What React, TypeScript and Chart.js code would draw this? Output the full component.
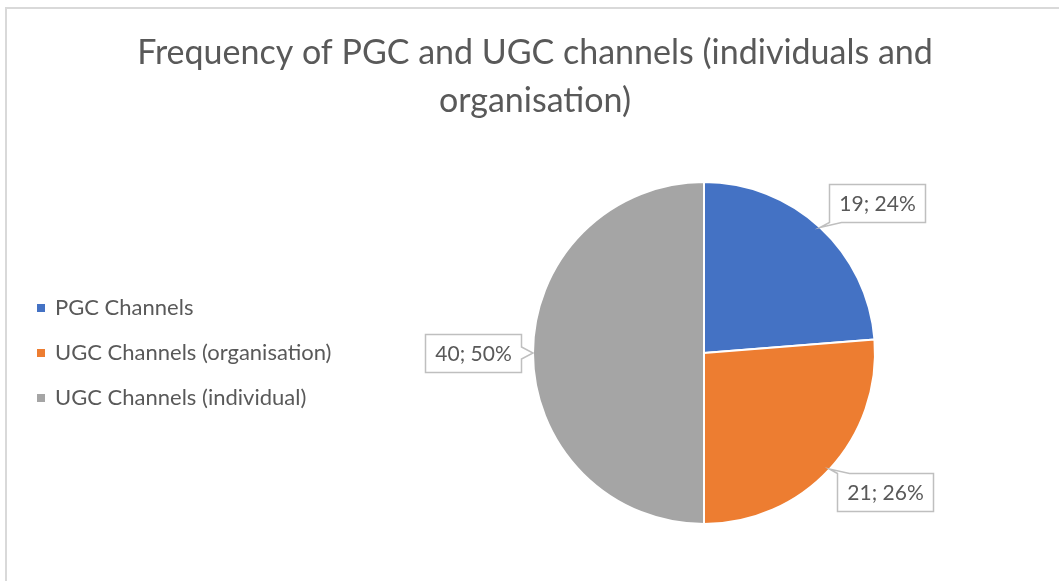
import React, { useEffect, useRef } from "react";
import { Chart, registerables } from "chart.js";
Chart.register(...registerables);

const categories = ["PGC Channels", "UGC Channels (organisation)", "UGC Channels (individual)"];
const values = [19, 21, 40];
const colors = ["#4472C4", "#ED7D31", "#A5A5A5"];
const titleLines = ["Frequency of PGC and UGC channels (individuals and", "organisation)"];
// label box placement: angle from 12 o'clock (deg, clockwise) and distance from pie centre
const labelAngles = [49.1, 127.6, 270];
const labelDistances = [229, 228.5, 231];

const FONT = "Lato, 'Open Sans', sans-serif";
const TEXT = "#595959";

const overlayPlugin = {
  id: "overlay",
  afterDraw(chart: any) {
    const ctx = chart.ctx as CanvasRenderingContext2D;
    const W = chart.width;
    const H = chart.height;
    ctx.save();
    // outer chart border
    ctx.strokeStyle = "#D9D9D9";
    ctx.lineWidth = 2;
    ctx.beginPath();
    ctx.moveTo(6, H + 10);
    ctx.lineTo(6, 8);
    ctx.lineTo(W + 10, 8);
    ctx.stroke();

    // title
    ctx.fillStyle = TEXT;
    ctx.font = `34px ${FONT}`;
    ctx.textAlign = "center";
    ctx.textBaseline = "middle";
    titleLines.forEach((l, i) => ctx.fillText(l, 535, 53 + i * 48));

    // legend
    ctx.font = `22px ${FONT}`;
    ctx.textAlign = "left";
    categories.forEach((c, i) => {
      const y = 308 + i * 45;
      ctx.fillStyle = colors[i];
      ctx.fillRect(37, y - 4, 8, 8);
      ctx.fillStyle = TEXT;
      ctx.fillText(c, 55, y);
    });

    // data labels (callouts)
    const meta = chart.getDatasetMeta(0);
    const arcs = meta.data;
    const total = values.reduce((a, b) => a + b, 0);
    arcs.forEach((arc: any, i: number) => {
      const cx = arc.x, cy = arc.y, r = arc.outerRadius;
      const mid = (arc.startAngle + arc.endAngle) / 2;
      const tip = { x: cx + Math.cos(mid) * r, y: cy + Math.sin(mid) * r };
      const a = (labelAngles[i] * Math.PI) / 180;
      const bx = cx + Math.sin(a) * labelDistances[i];
      const by = cy - Math.cos(a) * labelDistances[i];
      const text = `${values[i]}; ${Math.round((values[i] / total) * 100)}%`;
      ctx.font = `21px ${FONT}`;
      const tw = ctx.measureText(text).width;
      const w = tw + 20, h = 38;
      const L = Math.round(bx - w / 2) + 0.5, R = L + Math.round(w);
      const T = Math.round(by - h / 2) + 0.5, B = T + h;
      const pts: [number, number][] = [];
      const bw = 12;
      let side: string;
      if (tip.y < T) side = "top";
      else if (tip.y > B) side = "bottom";
      else if (tip.x < L) side = "left";
      else side = "right";
      const cxl = (v: number, lo: number, hi: number) => Math.max(lo, Math.min(hi, v));
      const tp: [number, number] = [tip.x, tip.y];
      if (side === "top") {
        const x1 = cxl(tip.x - bw / 2, L, R - bw), x2 = x1 + bw;
        pts.push([L, T], [x1, T], tp, [x2, T], [R, T], [R, B], [L, B]);
      } else if (side === "bottom") {
        const x1 = cxl(tip.x - bw / 2, L, R - bw), x2 = x1 + bw;
        pts.push([L, T], [R, T], [R, B], [x2, B], tp, [x1, B], [L, B]);
      } else if (side === "right") {
        const y1 = cxl(tip.y - bw / 2, T, B - bw), y2 = y1 + bw;
        pts.push([L, T], [R, T], [R, y1], tp, [R, y2], [R, B], [L, B]);
      } else {
        const y1 = cxl(tip.y - bw / 2, T, B - bw), y2 = y1 + bw;
        pts.push([L, T], [R, T], [R, B], [L, B], [L, y2], tp, [L, y1]);
      }
      ctx.beginPath();
      pts.forEach(([x, y], k) => (k === 0 ? ctx.moveTo(x, y) : ctx.lineTo(x, y)));
      ctx.closePath();
      ctx.fillStyle = "#FFFFFF";
      ctx.fill();
      ctx.strokeStyle = "#BFBFBF";
      ctx.lineWidth = 1.5;
      ctx.stroke();
      ctx.fillStyle = TEXT;
      ctx.textAlign = "center";
      ctx.textBaseline = "middle";
      ctx.fillText(text, (L + R) / 2, (T + B) / 2 + 1);
    });
    ctx.restore();
  },
};

export default function App() {
  const ref = useRef<HTMLCanvasElement>(null);
  useEffect(() => {
    if (!ref.current) return;
    const chart = new Chart(ref.current, {
      type: "pie",
      data: {
        labels: categories,
        datasets: [
          {
            data: values,
            backgroundColor: colors,
            borderColor: "#FFFFFF",
            borderWidth: 2,
          },
        ],
      },
      options: {
        responsive: false,
        animation: false,
        radius: 171,
        layout: { padding: { left: 400, right: 51, top: 140, bottom: 15 } },
        plugins: {
          legend: { display: false },
          tooltip: { enabled: false },
          title: { display: false },
        },
      } as any,
      plugins: [overlayPlugin],
    });
    return () => chart.destroy();
  }, []);
  return (
    <div style={{ position: "fixed", left: 0, top: 0, width: 1059, height: 581, background: "#fff" }}>
      <canvas ref={ref} width={1059} height={581} style={{ display: "block" }} />
    </div>
  );
}
